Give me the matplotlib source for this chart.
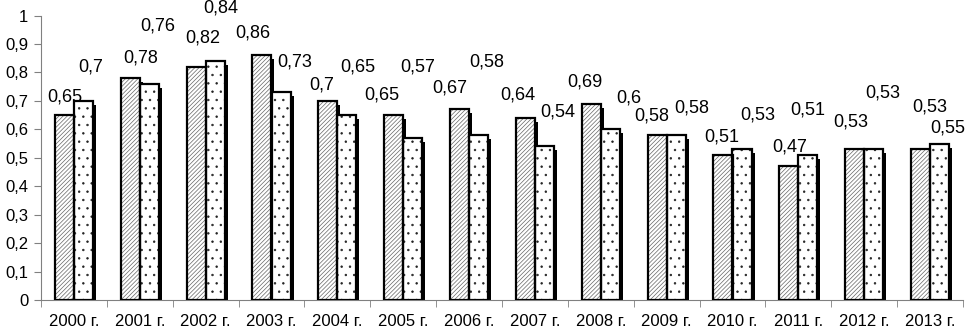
import numpy as np
import matplotlib
matplotlib.use("Agg")
import matplotlib.pyplot as plt

plt.rcParams['font.family'] = ['Liberation Sans', 'DejaVu Sans']
plt.rcParams['hatch.linewidth'] = 0.5

years = ["2000 г.", "2001 г.", "2002 г.", "2003 г.", "2004 г.", "2005 г.", "2006 г.",
         "2007 г.", "2008 г.", "2009 г.", "2010 г.", "2011 г.", "2012 г.", "2013 г."]
series1 = [0.65, 0.78, 0.82, 0.86, 0.70, 0.65, 0.67, 0.64, 0.69, 0.58, 0.51, 0.47, 0.53, 0.53]
series2 = [0.70, 0.76, 0.84, 0.73, 0.65, 0.57, 0.58, 0.54, 0.60, 0.58, 0.53, 0.51, 0.53, 0.55]

# label offsets from bar top (pixels: dx, dy up)
offs1 = [(0, 18), (10, 20), (7, 29), (-9, 22), (-6, 16), (-12, 20), (-10, 21),
         (-8, 23), (-6, 22), (-5, 19), (-1, 18), (1, 19), (-4, 27), (9, 42)]
offs2 = [(7, 34), (8, 58), (6, 53), (14, 30), (11, 48), (5, 71), (8, 73),
         (13, 34), (18, 31), (16, 27), (16, 34), (0, 45), (9, 56), (8, 16)]

fig = plt.figure(figsize=(9.67, 3.3), dpi=100)
ax = fig.add_axes([41 / 967, 30 / 330, 922 / 967, 284.5 / 330])

x = np.arange(len(years))
w = 0.29
px = 1 / 65.86  # one pixel in x data units
py = 1 / 284.5  # one pixel in y data units

for vals, sign, hatch, hcol, offs in [(series1, -1, '////////', '#666666', offs1),
                                      (series2, 1, '..', '#222222', offs2)]:
    xs = x + sign * w / 2
    vals = np.array(vals)
    # shadow
    ax.bar(xs + 3 * px, vals - 4 * py, w, color='black', zorder=1)
    # fill with hatch
    ax.bar(xs, vals, w, color='white', edgecolor=hcol, hatch=hatch, linewidth=0, zorder=2)
    # outline
    ax.bar(xs, vals, w, fill=False, edgecolor='black', linewidth=1.6, zorder=3)
    for xi, v, (dx, dy) in zip(xs, vals, offs):
        ax.annotate(f"{v:g}".replace('.', ','), (xi, v), xytext=(dx * 0.72, dy * 0.72),
                    textcoords='offset points', ha='center', va='center',
                    fontsize=13, annotation_clip=False)

ax.set_xlim(-0.5, len(years) - 0.5)
ax.set_ylim(0, 1)
ax.set_yticks(np.arange(0, 1.01, 0.1))
ax.set_yticklabels([f"{t:g}".replace('.', ',') for t in np.arange(0, 1.01, 0.1).round(1)], fontsize=12)
ax.set_xticks(x)
ax.set_xticklabels(years, fontsize=12)
ax.set_xticks(np.arange(-0.5, len(years), 1), minor=True)
ax.tick_params(axis='x', which='major', length=0, pad=10)
ax.tick_params(axis='x', which='minor', length=5, color='#808080', direction='out')
ax.tick_params(axis='y', length=5, color='#808080', direction='out', pad=4)

for s in ['top', 'right']:
    ax.spines[s].set_visible(False)
for s in ['left', 'bottom']:
    ax.spines[s].set_color('#808080')

fig.savefig("out.png", dpi=100)
